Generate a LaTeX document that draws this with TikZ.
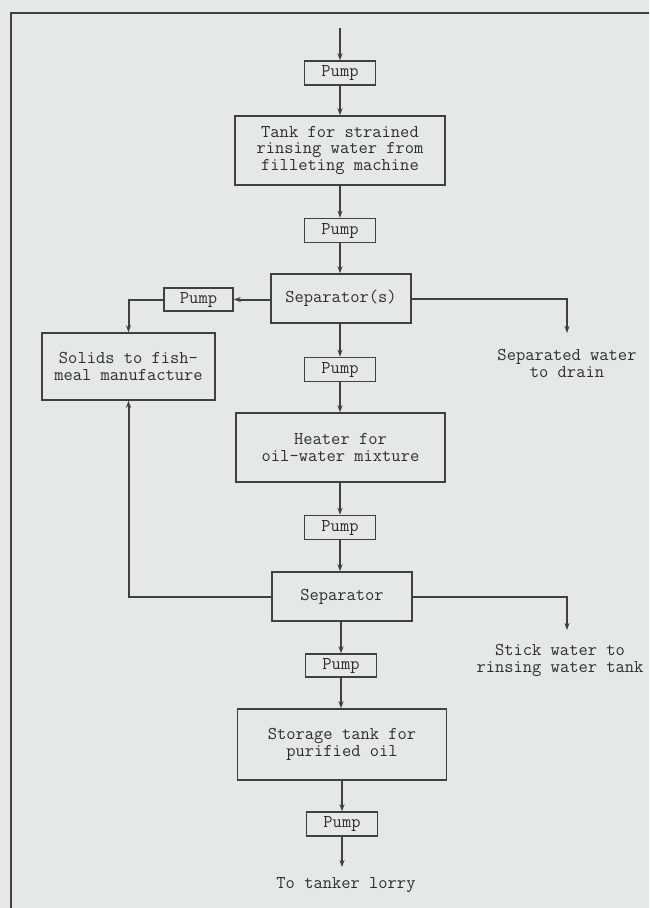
\documentclass[tikz,border=0pt]{standalone}
\usepackage{fontspec}
\newfontfamily\mono{Latin Modern Mono}
\usetikzlibrary{arrows.meta}
\definecolor{bgcol}{HTML}{E5E8E9}
\definecolor{linecol}{HTML}{404040}
\definecolor{txtcol}{HTML}{2E2E2E}
\tikzset{
  box/.style={draw=linecol, line width=1.5pt, fill=bgcol, inner sep=0pt,
    font=\mono\fontsize{18}{16.5}\selectfont, text=txtcol, align=center},
  pumpbox/.style={box, minimum width=71pt, minimum height=24pt},
  bigbox/.style={box, minimum width=209pt, minimum height=69pt},
  sepbox/.style={box, minimum width=140pt, minimum height=49pt},
  lbl/.style={inner sep=0pt, font=\mono\fontsize{18}{16.5}\selectfont, text=txtcol, align=center},
  flow/.style={draw=linecol, line width=2pt, -{Stealth[length=7pt,width=5pt]}},
  frame/.style={draw=linecol, line width=1.6pt}
}
\begin{document}
\begin{tikzpicture}[x=1pt,y=-1pt]
\fill[bgcol] (0,0) rectangle (649,908);
\useasboundingbox (0,0) rectangle (649,908);
% frame
\coordinate (fl) at (11,908);
\coordinate (fc) at (11,13);
\coordinate (fr) at (649,13);
\draw[frame] (fl) -- (fc) -- (fr);
% main column
\coordinate (in) at (340,28);
\node[pumpbox] (p1) at (340,73) {Pump};
\node[bigbox, minimum width=210pt] (tank) at (340,150.5) {Tank for strained\\rinsing water from\\filleting machine};
\node[pumpbox] (p2) at (340,230.5) {Pump};
\node[sepbox] (s1) at (341,298.5) {Separator(s)};
\node[pumpbox, minimum width=69pt, minimum height=23pt] (lp) at (198.5,299.5) {Pump};
\node[box, minimum width=173pt, minimum height=67pt] (sol) at (128.5,366.5) {Solids to fish-\\meal manufacture};
\node[pumpbox] (p3) at (340,369.5) {Pump};
\node[bigbox] (heat) at (340.5,447.5) {Heater for\\oil-water mixture};
\node[pumpbox] (p4) at (340,527.5) {Pump};
\node[sepbox] (s2) at (342,596.5) {Separator};
\node[pumpbox, minimum height=23pt] (p5) at (341,665.5) {Pump};
\node[bigbox, minimum height=71pt] (stor) at (342,744.5) {Storage tank for\\purified oil};
\node[pumpbox] (p6) at (342,824) {Pump};
\node[lbl] (lorry) at (346,885) {To tanker lorry};
\node[lbl] (drain) at (567,363.5) {Separated water\\to drain};
\node[lbl] (stick) at (560,660.5) {Stick water to\\rinsing water tank};
\coordinate (dr) at (567,333);
\coordinate (st) at (567,630);
\coordinate (out) at (342,867);
% connectors
\draw[flow] (in) -- (p1.north);
\draw[flow] (p1.south) -- (tank.north -| p1.south);
\draw[flow] (tank.south -| p2.north) -- (p2.north);
\draw[flow] (p2.south) -- (s1.north -| p2.south);
\draw[flow] (s1.south -| p3.north) -- (p3.north);
\draw[flow] (p3.south) -- (heat.north -| p3.south);
\draw[flow] (heat.south -| p4.north) -- (p4.north);
\draw[flow] (p4.south) -- (s2.north -| p4.south);
\draw[flow] (s2.south -| p5.north) -- (p5.north);
\draw[flow] (p5.south) -- (stor.north -| p5.south);
\draw[flow] (stor.south -| p6.north) -- (p6.north);
\draw[flow] (p6.south) -- (out);
\draw[flow] (s1.west |- lp.east) -- (lp.east);
\draw[flow] (lp.west) -| (sol.north);
\draw[flow] (s1.east |- 0,299) -| (dr);
\draw[flow] (s2.west) -| (sol.south);
\draw[flow] (s2.east) -| (st);
\end{tikzpicture}
\end{document}
